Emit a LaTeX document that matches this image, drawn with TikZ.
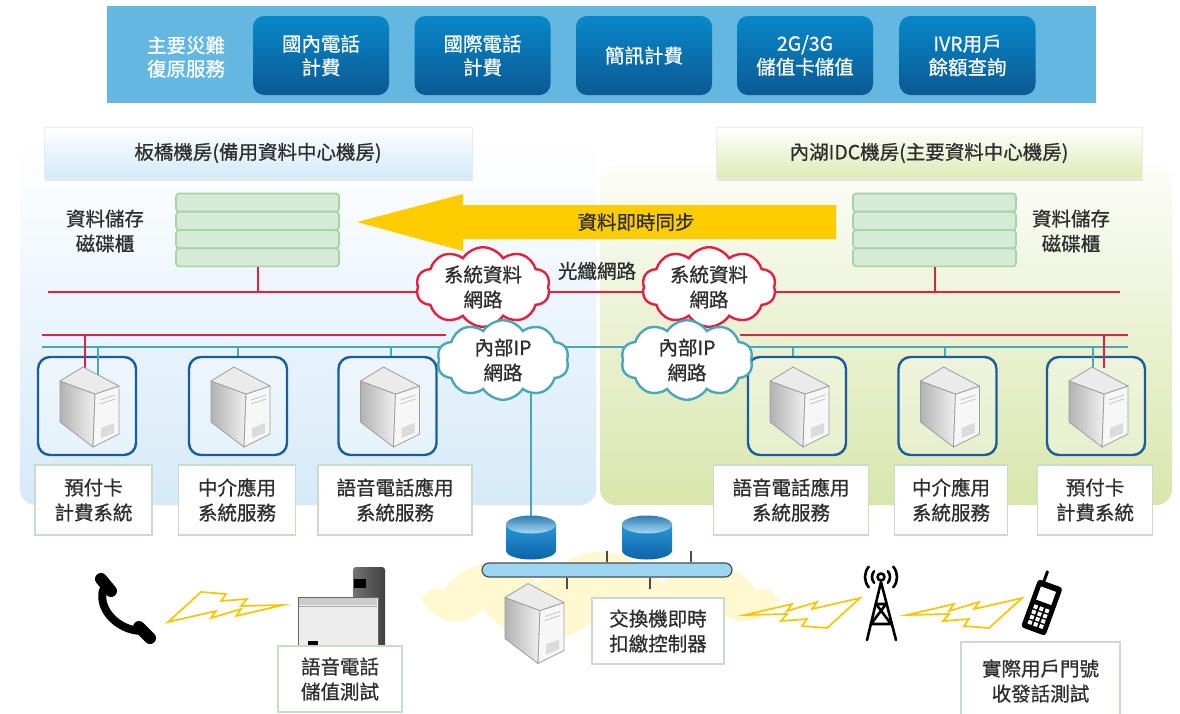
\documentclass[tikz,border=0pt]{standalone}
\usepackage{fontspec}
\setmainfont{Noto Sans CJK TC}[FakeBold=0.7]
\usetikzlibrary{shapes.symbols,calc,shadows}

\definecolor{bannerblue}{HTML}{63B7E0}
\definecolor{btntop}{HTML}{0888C9}
\definecolor{btnbot}{HTML}{0B5994}
\definecolor{txt}{HTML}{2E2E2E}
\definecolor{netred}{HTML}{E3203F}
\definecolor{netteal}{HTML}{4AA7B7}
\definecolor{srvblue}{HTML}{1A5D9D}
\definecolor{lblline}{HTML}{CADBCA}
\definecolor{rackfill}{HTML}{D6EBD6}
\definecolor{rackline}{HTML}{A6D3A6}
\definecolor{syncyellow}{HTML}{FFCC00}
\definecolor{boltyellow}{HTML}{F7C600}
\definecolor{leftbg}{HTML}{D6EAF8}
\definecolor{rightbg}{HTML}{D8E6AC}
\definecolor{hdrblue}{HTML}{D3E9F8}
\definecolor{hdrgreen}{HTML}{DEEAB4}
\definecolor{diskdark}{HTML}{0B64A8}
\definecolor{diskmid}{HTML}{2A97D4}
\definecolor{disklight}{HTML}{A6DAF3}
\definecolor{barblue}{HTML}{9CD6F2}
\definecolor{blobyellow}{HTML}{FFF8D0}

\newcommand\lblsize{\fontsize{19.5}{25}\selectfont}
\newcommand\btnsize{\fontsize{19.5}{23.5}\selectfont}

\tikzset{
  lbl/.style={draw=lblline, line width=1.4pt, fill=white, text=txt, font=\lblsize,
    align=center, inner sep=0pt, minimum height=70pt},
  btn/.style={rounded corners=11pt, top color=btntop, bottom color=btnbot, text=white,
    font=\btnsize, align=center, minimum width=136pt, minimum height=79pt, inner sep=0pt},
  srvbox/.style={draw=srvblue, line width=2.4pt, rounded corners=12pt, fill=white,
    fill opacity=0.3, minimum width=98pt, minimum height=98pt, inner sep=0pt},
  hdr/.style={draw=black!8, line width=0.6pt, text=txt, font=\lblsize, inner sep=0pt,
    minimum height=51pt, drop shadow={opacity=0.18, shadow xshift=1pt, shadow yshift=-2pt}},
  redbus/.style={draw=netred, line width=2pt},
  tealbus/.style={draw=netteal, line width=2pt},
  netcloud/.style={cloud, cloud puffs=10, cloud puff arc=115, line width=2.4pt, fill=white,
    text=txt, font=\lblsize, align=center, inner sep=0pt, aspect=2.1},
  rackrow/.style={draw=rackline, line width=1.6pt, fill=rackfill, rounded corners=3pt,
    minimum width=163pt, minimum height=18pt, inner sep=0pt},
  plain/.style={text=txt, font=\lblsize, align=center, inner sep=0pt},
  tower/.pic={
    \begin{scope}[line width=0.8pt, line join=round]
      \path[draw=black!38, left color=black!30, right color=black!6]
        (-27,-25) -- (8,-12) -- (6,41) -- (-27,16) -- cycle;
      \path[draw=black!38, fill=black!3] (8,-12) -- (32,-20) -- (32,28) -- (6,41) -- cycle;
      \path[draw=black!38, fill=black!8] (-27,-25) -- (-4,-39) -- (32,-20) -- (8,-12) -- cycle;
      \draw[black!22, line width=0.9pt] (13,-6) -- (28,-11) (13,-2) -- (28,-7);
      \path[fill=black!14] (14,22) -- (27,17) -- (27,27) -- (14,32) -- cycle;
    \end{scope}
  },
  disk/.pic={
    \path[top color=diskmid, bottom color=diskdark]
      (-25,-13) -- (-25,13) arc[start angle=180, end angle=0, x radius=25, y radius=9]
      -- (25,-13) -- cycle;
    \path[top color=diskdark!85, bottom color=disklight] (0,-13) ellipse[x radius=25, y radius=9];
  },
  bolt/.pic={
    \draw[boltyellow, line width=1.7pt, line join=miter, fill=white]
      (0,30) -- (33,0) -- (58,2) -- (53,9) -- (79,7) -- (73,14) -- (115,13)
      -- (68,24) -- (73,17) -- (43,26) -- (48,19) -- cycle;
  }
}

\begin{document}
\begin{tikzpicture}[x=1pt, y=-1pt]
\useasboundingbox (0,0) rectangle (1180,713);
\fill[white] (0,0) rectangle (1180,713);

% ---------- service banner ----------
\fill[bannerblue] (107,6) rectangle (1096,103);
\node[plain, text=white, font=\btnsize] (svc) at (186,57) {主要災難\\復原服務};
\node[btn] (b1) at (321,55.5) {國內電話\\計費};
\node[btn] (b2) at (482.5,55.5) {國際電話\\計費};
\node[btn] (b3) at (644,55.5) {簡訊計費};
\node[btn] (b4) at (805,55.5) {2G/3G\\儲值卡儲值};
\node[btn] (b5) at (967.5,55.5) {IVR用戶\\餘額查詢};

% ---------- data center areas ----------
\path[rounded corners=16pt, top color=white, bottom color=leftbg] (20,140) rectangle (596,505);
\path[rounded corners=16pt, top color=white!60!rightbg!20, bottom color=rightbg] (600,165) rectangle (1172,505);

\node[hdr, top color=white, bottom color=hdrblue, minimum width=428pt] (hL) at (258,153) {板橋機房(備用資料中心機房)};
\node[hdr, top color=white, bottom color=hdrgreen, minimum width=426pt] (hR) at (929,153) {內湖IDC機房(主要資料中心機房)};

% ---------- storage racks ----------
\foreach \i/\y in {1/202.5,2/220.8,3/239.1,4/257.4}{
  \node[rackrow] (rL\i) at (257.5,\y) {};
  \node[rackrow] (rR\i) at (934.5,\y) {};
}
\node[plain] (rLlab) at (105,231) {資料儲存\\磁碟櫃};
\node[plain] (rRlab) at (1071,231) {資料儲存\\磁碟櫃};

% ---------- real-time sync arrow ----------
\coordinate (syncTip) at (357,222);
\coordinate (syncEnd) at (836,222);
\fill[syncyellow] (syncTip) -- (463,194) -- (463,205) -- (syncEnd |- 0,205)
  -- (syncEnd |- 0,239) -- (463,239) -- (463,251) -- cycle;
\node[plain] (syncLab) at (636,222) {資料即時同步};

% ---------- bus coordinates ----------
\coordinate (sysL) at (48,292);   \coordinate (sysR) at (1120,292);
\coordinate (redL) at (42,334.5); \coordinate (redLe) at (446,334.5);
\coordinate (redRs) at (740,334.5); \coordinate (redR) at (1128,334.5);
\coordinate (ipL) at (42,347);    \coordinate (ipR) at (1128,347);

% fibre-optic system network
\draw[redbus] (sysL) -- (sysR);
\draw[redbus] (rL4.south) -- (rL4.south |- sysL);
\draw[redbus] (rR4.south) -- (rR4.south |- sysR);

% internal buses
\draw[redbus] (redL) -- (redLe);
\draw[redbus] (redRs) -- (redR);
\draw[tealbus] (ipL) -- (ipR);

% ---------- servers ----------
\node[srvbox] (sL1) at (87,406) {};
\node[srvbox] (sL2) at (238,406) {};
\node[srvbox] (sL3) at (387.5,406) {};
\node[srvbox] (sR1) at (797,406) {};
\node[srvbox] (sR2) at (947.5,406) {};
\node[srvbox] (sR3) at (1096,406) {};

\draw[redbus] (85,334.5 |- redL) -- (85,368);
\draw[tealbus] (97.5,347 |- ipL) -- (97.5,376);
\draw[tealbus] (sL2.north |- ipL) -- (sL2.north);
\draw[tealbus] ([xshift=3.5pt]sL3.north |- ipL) -- ([xshift=3.5pt]sL3.north);
\draw[tealbus] ([xshift=-4pt]sR1.north |- ipL) -- ([xshift=-4pt]sR1.north);
\draw[tealbus] ([xshift=-3pt]sR2.north |- ipL) -- ([xshift=-3pt]sR2.north);
\draw[tealbus] (1093,347 |- ipR) -- (1093,376);
\draw[redbus] (1104,334.5 |- redR) -- (1104,368);

\foreach \n in {sL1,sL2,sL3,sR1,sR2,sR3}{ \pic at (\n) {tower}; }

\node[lbl, minimum width=117pt] (tL1) at (93.5,500) {預付卡\\計費系統};
\node[lbl, minimum width=117pt] (tL2) at (237,500) {中介應用\\系統服務};
\node[lbl, minimum width=154pt] (tL3) at (395,500) {語音電話應用\\系統服務};
\node[lbl, minimum width=155pt] (tR1) at (791,500) {語音電話應用\\系統服務};
\node[lbl, minimum width=113pt] (tR2) at (951,500) {中介應用\\系統服務};
\node[lbl, minimum width=115pt] (tR3) at (1095,500) {預付卡\\計費系統};

% ---------- switch area ----------
\node[cloud, cloud puffs=9, cloud puff arc=110, fill=blobyellow, minimum width=345pt,
  minimum height=92pt, aspect=3.8] (blob) at (600,598) {};

\coordinate (d1) at (531,537.5);
\coordinate (d2) at (647,537.5);
\draw[tealbus] (d1 |- ipL) ++(0,38) -- ([yshift=-2pt]d1 |- 0,515);

% ---------- network clouds ----------
\node[netcloud, draw=netred, minimum width=134pt, minimum height=64pt] (cSysL) at (483,287) {系統資料\\網路};
\node[netcloud, draw=netred, minimum width=134pt, minimum height=64pt] (cSysR) at (709,287) {系統資料\\網路};
\node[plain] (fiber) at (597,271) {光纖網路};
\node[netcloud, draw=netteal, minimum width=128pt, minimum height=64pt] (cIpL) at (503,360) {內部IP\\網路};
\node[netcloud, draw=netteal, minimum width=128pt, minimum height=64pt] (cIpR) at (687,360) {內部IP\\網路};

\pic at (d1) {disk};
\pic at (d2) {disk};
\node[draw=black!70, line width=1.2pt, fill=barblue, rounded corners=7pt, minimum width=250pt,
  minimum height=14pt, inner sep=0pt] (bar) at (607,570) {};
\draw[black!70, line width=1.2pt] (bar.north) -- ++(0,-11);
\draw[black!70, line width=1.2pt] ([xshift=84pt]bar.north) -- ++(0,-11);
\draw[black!70, line width=1.2pt] ([xshift=-40pt]bar.south) -- ++(0,11);
\draw[black!70, line width=1.2pt] ([xshift=43pt]bar.south) -- ++(0,11);
\pic at (532,622.5) {tower};
\node[lbl, minimum width=132pt, minimum height=66pt] (ctrl) at (658,631) {交換機即時\\扣繳控制器};

% ---------- left test: handset and recharge terminal ----------
\draw[line width=8pt, line cap=round] (103,590) .. controls (98,610) and (118,630) .. (141,631);
\draw[line width=12pt, line cap=round] (101,579) -- (111,591);
\draw[line width=12pt, line cap=round] (139,627) -- (150,638);

\pic at (168,592) {bolt};

\path[left color=black!55, right color=black!75, rounded corners=3pt] (353,652) -- (353,567) -- (385,567) -- (385,652) -- cycle;
\fill[black] (354,579) rectangle (366,588);
\path[draw=black!60, line width=1pt, fill=black!7] (298,597) rectangle (378,655);
\fill[black!20] (299,598) rectangle (377,605);
\draw[black!35, line width=0.8pt] (299,606) -- (377,606);
\fill[black] (308,641) rectangle (318,645);
\node[lbl, minimum width=124pt, minimum height=66pt] (tTest) at (340,679) {語音電話\\儲值測試};

% ---------- right test: tower and mobile ----------
\pic[rotate=180] at (860,628) {bolt};
\pic[rotate=180] at (1022,628) {bolt};

\coordinate (ant) at (881,577);
\begin{scope}[line width=2.6pt, line cap=round, line join=round]
  \draw (ant) circle[radius=3.5];
  \draw (881,582) -- (867,640) (881,582) -- (896,640);
  \draw (876,604) -- (886,604) -- (871,624) (876,604) -- (891,624) (871,624) -- (891,624);
  \draw (ant) ++(140:9) arc[start angle=140, end angle=220, radius=9];
  \draw (ant) ++(140:16) arc[start angle=140, end angle=220, radius=16];
  \draw (ant) ++(-40:9) arc[start angle=-40, end angle=40, radius=9];
  \draw (ant) ++(-40:16) arc[start angle=-40, end angle=40, radius=16];
\end{scope}

\begin{scope}[shift={(1042,607)}, rotate=-20]
  \draw[line width=3pt, line cap=round] (-7,-24) -- (-7,-35);
  \fill[rounded corners=3pt] (-13,-25) rectangle (13,26);
  \fill[white] (-8,-19) rectangle (8,-5);
  \foreach \r in {0,1,2,3}{ \foreach \c in {-1,0,1}{
    \fill[white] ($(\c*6,2+\r*5.5)+(-2,-2)$) rectangle ++(4,4);
  }}
\end{scope}
\node[lbl, minimum width=159pt, minimum height=78pt] (tMob) at (1040.5,681) {實際用戶門號\\收發話測試};

\end{tikzpicture}
\end{document}
